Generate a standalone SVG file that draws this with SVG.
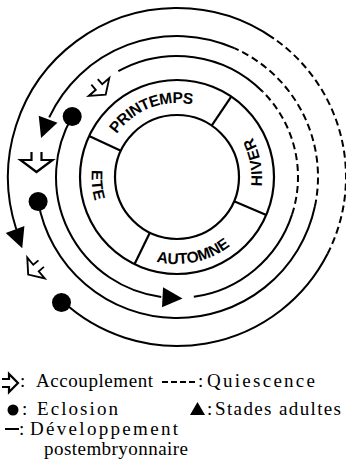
<svg xmlns="http://www.w3.org/2000/svg" xmlns:xlink="http://www.w3.org/1999/xlink" width="346" height="469" viewBox="0 0 346 469">
<style>
.ring{fill:none;stroke:#000;stroke-width:2.2}
.arc{fill:none;stroke:#000;stroke-width:2}
.dash{fill:none;stroke:#000;stroke-width:2;stroke-dasharray:7 4}
.season{font-family:"Liberation Sans",Arial,sans-serif;font-weight:bold;font-size:15.5px;fill:#000}
.leg{font-family:"Liberation Serif","Times New Roman",serif;font-size:19px;fill:#000}
.mate{fill:#fff;stroke:#000;stroke-width:2.2;stroke-linejoin:miter}
</style>
<defs>
<path id="mateShape" d="M -8,-5 H 0 V -16 L 12,0 L 0,16 V 5 H -8"/>
<path id="tri" d="M 11,0 L -9,-10 L -9,10 Z"/>
<path id="pPrin" d="M 106.82 153.52 A 74 74 0 0 1 212.31 111.97"/>
<path id="pHiv" d="M 243.06 230.49 A 85 85 0 0 0 218.21 102.66"/>
<path id="pEte" d="M 115.14 117.26 A 87 87 0 0 0 128.91 248.30"/>
<path id="pAut" d="M 123.44 245.56 A 87 87 0 0 0 253.82 217.84"/>
</defs>
<rect width="346" height="469" fill="#fff"/>

<g id="seasons">
<circle class="ring" cx="177" cy="177" r="62"/>
<circle class="ring" cx="177" cy="177" r="97"/>
<line class="ring" x1="120.81" y1="150.80" x2="89.09" y2="136.01"/>
<line class="ring" x1="211.67" y1="125.60" x2="231.24" y2="96.58"/>
<line class="ring" x1="234.07" y1="201.23" x2="266.29" y2="214.90"/>
<line class="ring" x1="149.82" y1="232.73" x2="134.48" y2="264.18"/>
<text class="season" letter-spacing="-0.6"><textPath xlink:href="#pPrin" href="#pPrin" startOffset="50%" text-anchor="middle">PRINTEMPS</textPath></text>
<text class="season" letter-spacing="0.8"><textPath xlink:href="#pHiv" href="#pHiv" startOffset="50%" text-anchor="middle">HIVER</textPath></text>
<text class="season" letter-spacing="0.5"><textPath xlink:href="#pEte" href="#pEte" startOffset="50%" text-anchor="middle">ETE</textPath></text>
<text class="season" letter-spacing="0"><textPath xlink:href="#pAut" href="#pAut" startOffset="50%" text-anchor="middle">AUTOMNE</textPath></text>
</g>

<g id="connectors">
<path class="arc" d="M 72.21 116.5 A 121 121 0 0 0 161.21 296.96"/>
<path class="arc" d="M 193.84 296.82 A 121 121 0 0 0 292.08 214.39"/>
<path class="dash" d="M 292.08 214.39 A 121 121 0 0 0 262.56 91.44"/>
<path class="arc" d="M 262.56 91.44 A 121 121 0 0 0 118.34 71.17"/>
<path class="arc" d="M 38.14 201.48 A 141 141 0 0 0 314.92 206.32"/>
<path class="dash" d="M 314.92 206.32 A 141 141 0 0 0 234.35 48.19"/>
<path class="arc" d="M 234.35 48.19 A 141 141 0 0 0 49.21 117.41"/>
<path class="arc" d="M 61.74 300.60 A 169 169 0 0 0 327.58 253.72"/>
<path class="dash" d="M 327.58 253.72 A 169 169 0 0 0 273.93 38.56"/>
<path class="arc" d="M 273.93 38.56 A 169 169 0 0 0 16.27 229.22"/>
</g>

<g id="eclosion-1"><circle cx="72.2" cy="116.5" r="9.5"/></g>
<g id="eclosion-2"><circle cx="38.1" cy="201.5" r="9.5"/></g>
<g id="eclosion-3"><circle cx="61.5" cy="302.5" r="9.5"/></g>

<g id="adult-1"><use href="#tri" xlink:href="#tri" transform="translate(44.93 127.62) rotate(110.5)"/></g>
<g id="adult-2"><use href="#tri" xlink:href="#tri" transform="translate(18.3 237.9) rotate(69)"/></g>
<g id="adult-3"><use href="#tri" xlink:href="#tri" transform="translate(171.5 297.8) rotate(3)"/></g>

<g id="mating-1"><use class="mate" href="#mateShape" xlink:href="#mateShape" transform="translate(99 87) rotate(49) scale(0.85)"/></g>
<g id="mating-2"><use class="mate" href="#mateShape" xlink:href="#mateShape" transform="translate(36.5 160) rotate(90)"/></g>
<g id="mating-3"><use class="mate" href="#mateShape" xlink:href="#mateShape" transform="translate(36 268) rotate(140) scale(0.85)"/></g>

<g id="legend">
<path class="mate" d="M 2,379 H 9 V 374 L 18,383 L 9,392 V 387 H 2"/>
<text class="leg" x="20" y="387">:</text>
<text class="leg" x="36" y="387" textLength="117" lengthAdjust="spacing">Accouplement</text>
<line x1="162" y1="382" x2="197" y2="382" stroke="#000" stroke-width="2" stroke-dasharray="6 3"/>
<text class="leg" x="198" y="387">:</text>
<text class="leg" x="207" y="387" textLength="108" lengthAdjust="spacing">Quiescence</text>
<circle cx="13" cy="410" r="5.5"/>
<text class="leg" x="22" y="415">:</text>
<text class="leg" x="37" y="415" textLength="81" lengthAdjust="spacing">Eclosion</text>
<path d="M 190,415 L 205,415 L 197.5,402 Z"/>
<text class="leg" x="207" y="415">:</text>
<text class="leg" x="215" y="415" textLength="126" lengthAdjust="spacing">Stades adultes</text>
<line x1="5" y1="429" x2="19" y2="429" stroke="#000" stroke-width="2"/>
<text class="leg" x="19" y="435">:</text>
<text class="leg" x="30" y="435" textLength="148" lengthAdjust="spacing">Développement</text>
<text class="leg" x="44" y="455" textLength="144" lengthAdjust="spacing">postembryonnaire</text>
</g>
</svg>
